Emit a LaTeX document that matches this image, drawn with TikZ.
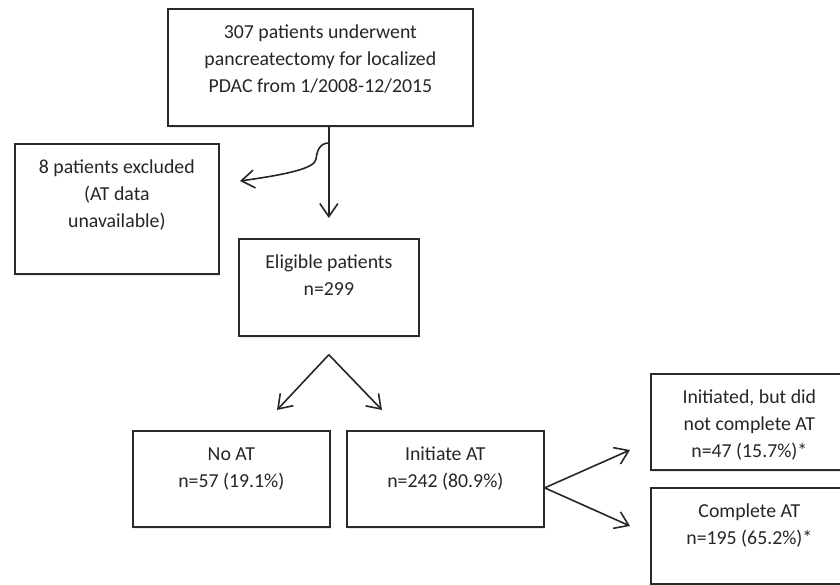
\documentclass[tikz,border=0pt]{standalone}
\usepackage{fontspec}
\setmainfont{Carlito}
\usepackage{xcolor}
\definecolor{boxgray}{HTML}{2A2A2A}
\definecolor{textgray}{HTML}{262626}
\usetikzlibrary{arrows.meta, shadows}
\newcommand{\cell}[3]{\parbox[c][#2][t]{#1}{\centering\rule{0pt}{30pt}#3}}

\begin{document}
\begin{tikzpicture}[
	x=1pt, y=-1pt,
	box/.style={rectangle, draw=boxgray, fill=white, line width=1.7pt, inner sep=0pt,
	            anchor=north west, text=textgray, font=\fontsize{19.8}{27}\selectfont,
	            drop shadow={shadow xshift=1.5pt, shadow yshift=-2.5pt, opacity=0.18}},
	arr/.style={-{Straight Barb[length=13pt, width=18pt]}, draw=black!85, line width=1.6pt}
	]
\useasboundingbox (0,0) rectangle (840,585);
\clip (0,0) rectangle (840,585);

% Ausgangskohorte und Ausschluss
\node[box] (top) at (167,8) {\cell{305pt}{117pt}{%
	307 patients underwent\\
	pancreatectomy for localized\\
	PDAC from 1/2008-12/2015}};
\node[box] (excl) at (14,143) {\cell{204pt}{130pt}{%
	8 patients excluded\\
	(AT data\\
	unavailable)}};
\node[box] (elig) at (238,238) {\cell{180pt}{97pt}{%
	Eligible patients\\
	n=299}};
\draw[arr, shorten >=20pt] (elig.north |- top.south) -- (elig.north);
\coordinate (bend) at (elig.north |- 0,143);
\coordinate (exTip) at (240,181);
\draw[arr] (bend) .. controls (319,143) and (317,152) .. (316,159)
	.. controls (315,168) and (290,174) .. (exTip);

% AT ja / nein
\node[box] (noat) at (132,430) {\cell{197pt}{96pt}{%
	No AT\\
	n=57 (19.1\%)}};
\node[box] (init) at (346,430) {\cell{197pt}{96pt}{%
	Initiate AT\\
	n=242 (80.9\%)}};
\coordinate (split) at ([yshift=-18pt]elig.south);
\coordinate (noTip) at (277,410);
\coordinate (initTip) at (382,410);
\draw[arr] (split) -- (noTip);
\draw[arr] (split) -- (initTip);

% Abschluss der AT
\node[box] (incomp) at (650,373) {\cell{197pt}{96pt}{%
	Initiated, but did\\
	not complete AT\\
	n=47 (15.7\%)*}};
\node[box] (comp) at (650,487) {\cell{197pt}{96pt}{%
	Complete AT\\
	n=195 (65.2\%)*}};
\coordinate (fork) at ([yshift=-9pt]init.east);
\coordinate (incTip) at (630,450);
\coordinate (compTip) at (630,526);
\draw[arr] (fork) -- (incTip);
\draw[arr] (fork) -- (compTip);

\end{tikzpicture}
\end{document}
